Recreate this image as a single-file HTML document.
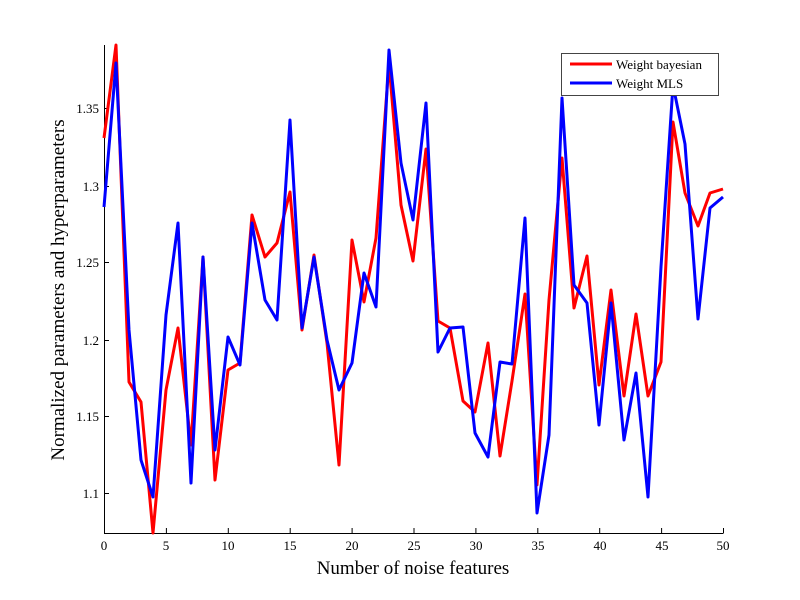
<!DOCTYPE html>
<html><head><meta charset="utf-8"><style>body{margin:0;background:#fff}svg{display:block}</style></head><body>
<svg width="800" height="600" xmlns="http://www.w3.org/2000/svg" font-family="Liberation Serif, serif">
<rect width="800" height="600" fill="#fff"/>
<g stroke="#000" stroke-width="1" fill="none">
<path d="M104.5,45 V533.5 H723.5"/>
<path d="M104.5,533 v-5 M166.4,533 v-5 M228.3,533 v-5 M290.2,533 v-5 M352.1,533 v-5 M414,533 v-5 M475.9,533 v-5 M537.8,533 v-5 M599.7,533 v-5 M661.6,533 v-5 M723.5,533 v-5"/>
<path d="M104,108.5 h5 M104,186.5 h5 M104,262.5 h5 M104,340.5 h5 M104,416.5 h5 M104,493.5 h5"/>
</g>
<g font-size="13" text-anchor="middle">
<text x="104" y="550">0</text><text x="166" y="550">5</text><text x="228" y="550">10</text><text x="290" y="550">15</text><text x="352" y="550">20</text><text x="414" y="550">25</text><text x="476" y="550">30</text><text x="538" y="550">35</text><text x="600" y="550">40</text><text x="662" y="550">45</text><text x="723" y="550">50</text>
</g>
<g font-size="13" text-anchor="end">
<text x="99" y="113">1.35</text><text x="99" y="191">1.3</text><text x="99" y="267">1.25</text><text x="99" y="345">1.2</text><text x="99" y="421">1.15</text><text x="99" y="498">1.1</text>
</g>
<text x="413" y="574" font-size="19" text-anchor="middle">Number of noise features</text>
<text transform="translate(64,290) rotate(-90)" font-size="19" text-anchor="middle">Normalized parameters and hyperparameters</text>
<g fill="none" stroke-width="3" stroke-linejoin="round">
<polyline stroke="#f00" points="104,138 116,45 129,382 141,402 153,533 166,390 178,328 191,445 203,257 215,480 228,370 240,363 252,215 265,257 277,243 290,192 302,330 314,255 327,343 339,465 352,240 364,302 376,238 389,63 401,205 413,261 426,149 438,321 450,328 463,401 475,412 488,343 500,456 512,381 525,294 537,485 549,300 562,158 574,308 587,256 599,385 611,290 624,396 636,314 648,396 661,362 673,122 685,193 698,226 710,193 723,189"/>
<polyline stroke="#00f" points="104,207 116,63 129,330 141,460 153,497 166,315 178,223 191,483 203,257 215,450 228,337 240,365 252,223 265,300 277,320 290,120 302,328 314,257 327,340 339,390 352,363 364,273 376,307 389,50 401,163 413,220 426,103 438,352 450,328 463,327 475,433 488,457 500,362 512,364 525,218 537,513 549,435 562,98 574,285 587,303 599,425 611,303 624,440 636,373 648,497 661,267 673,85 685,144 698,319 710,208 723,197"/>
</g>
<rect x="561.5" y="53.5" width="157" height="42" fill="#fff" stroke="#444"/>
<line x1="570" y1="64" x2="612" y2="64" stroke="#f00" stroke-width="3"/>
<line x1="570" y1="83" x2="612" y2="83" stroke="#00f" stroke-width="3"/>
<text x="616" y="69" font-size="13">Weight bayesian</text>
<text x="616" y="88" font-size="13">Weight MLS</text>
</svg>
</body></html>
